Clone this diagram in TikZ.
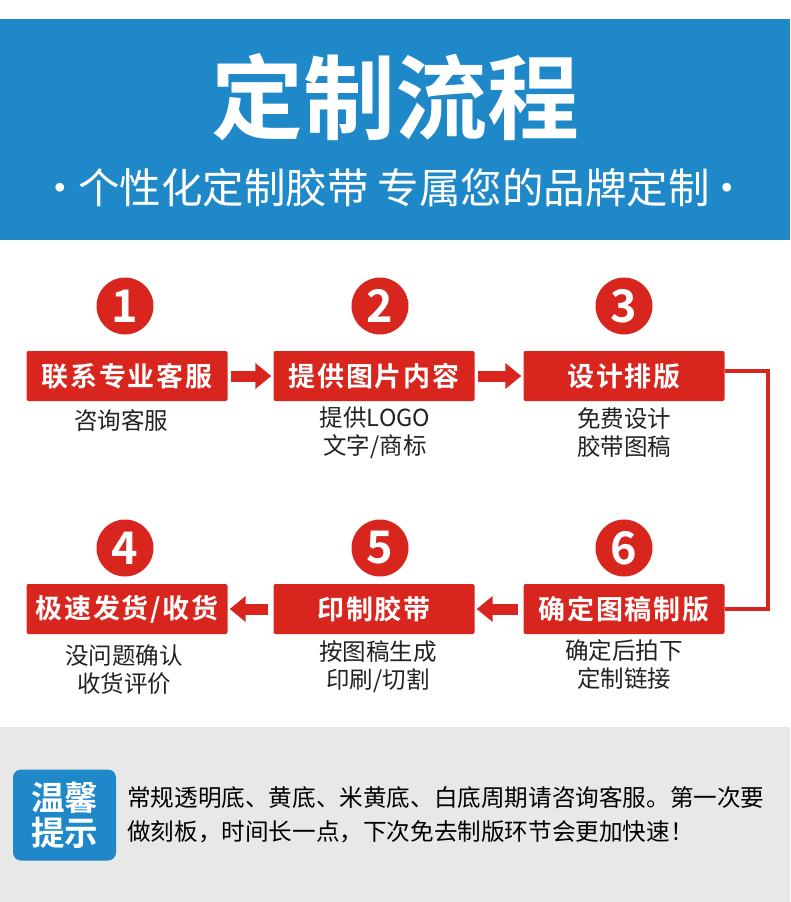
\documentclass[tikz,border=0pt]{standalone}
\usepackage{fontspec}
\setmainfont{Noto Sans CJK SC}[BoldFont={Noto Sans CJK SC Bold}]
\usetikzlibrary{arrows.meta,calc}
\definecolor{hdrblue}{HTML}{1F88C9}
\definecolor{stepred}{HTML}{D8251D}
\definecolor{tipgray}{HTML}{E8E8E8}
\definecolor{desctext}{HTML}{222222}
\begin{document}
\begin{tikzpicture}[x=1pt,y=-1pt,
  stepbox/.style={fill=stepred, rounded corners=2pt, minimum width=201pt, minimum height=50pt, inner sep=0pt, text=white, font=\fontsize{27}{27}\selectfont\bfseries\addfontfeatures{LetterSpace=6}},
  numdisc/.style={circle, fill=stepred, minimum size=57pt, inner sep=0pt, text=white, font=\fontsize{45}{45}\selectfont\bfseries},
  desc/.style={align=center, inner sep=0pt, text=desctext, font=\fontsize{23.5}{28}\selectfont},
  fatarrow/.style={draw=stepred, line width=11pt, -{Triangle[length=16pt,width=25pt]}, shorten <=3pt, shorten >=2pt},
  linkline/.style={draw=stepred, line width=4pt},
  tipbadge/.style={fill=hdrblue, rounded corners=8pt, minimum width=103pt, minimum height=91pt, inner sep=0pt, align=center, text=white, font=\fontsize{33.5}{35}\selectfont\bfseries},
  tipbody/.style={align=left, inner sep=0pt, text=black, font=\fontsize{23.6}{34}\selectfont},
]
\useasboundingbox (0,0) rectangle (790,902);
\fill[white] (0,0) rectangle (790,902);
% header
\fill[hdrblue] (0,19) rectangle (790,240);
\node[text=white, inner sep=0pt, font=\fontsize{92}{92}\selectfont\bfseries] (title) at (395,97) {定制流程};
\node[text=white, inner sep=0pt, font=\fontsize{41.5}{41.5}\selectfont] (subtitle) at (394,188) {·\kern-3pt 个性化定制胶带 专属您的品牌定制\kern-3pt ·};
% number discs
\node[numdisc] (c1) at (125,306) {1};
\node[numdisc] (c2) at (380,306) {2};
\node[numdisc] (c3) at (624,306) {3};
\node[numdisc] (c4) at (125,548) {4};
\node[numdisc] (c5) at (380,548) {5};
\node[numdisc] (c6) at (624,548) {6};
% step boxes
\node[stepbox] (b1) at (127,376) {联系专业客服};
\node[stepbox] (b2) at (374,376) {提供图片内容};
\node[stepbox] (b3) at (624,376) {设计排版};
\node[stepbox] (b4) at (127,609) {极速发货/收货};
\node[stepbox] (b5) at (374,609) {印制胶带};
\node[stepbox] (b6) at (624,609) {确定图稿制版};
% descriptions
\node[desc] (d1) at (121,421) {咨询客服};
\node[desc] (d2) at (375,433) {提供LOGO\\文字/商标};
\node[desc] (d3) at (624,433) {免费设计\\胶带图稿};
\node[desc] (d4) at (124,670) {没问题确认\\收货评价};
\node[desc] (d5) at (378,667) {按图稿生成\\印刷/切割};
\node[desc] (d6) at (624,665) {确定后拍下\\定制链接};
% arrows
\draw[fatarrow] (b1) -- (b2);
\draw[fatarrow] (b2) -- (b3);
\draw[fatarrow, shorten <=5pt] (b6) -- (b5);
\draw[fatarrow, shorten <=5pt] (b5) -- (b4);
\draw[linkline] ($(b3.east)+(0,-5)$) -- ++(43,0) |- (b6.east);
% tips
\fill[tipgray] (0,727) rectangle (790,902);
\node[tipbadge] (tip) at (64.5,815) {温馨\\提示};
\node[tipbody, anchor=west] (tipnote) at (127,815) {常规透明底、黄底、米黄底、白底周期请咨询客服。第一次要\\做刻板，时间长一点，下次免去制版环节会更加快速！};
\end{tikzpicture}
\end{document}
